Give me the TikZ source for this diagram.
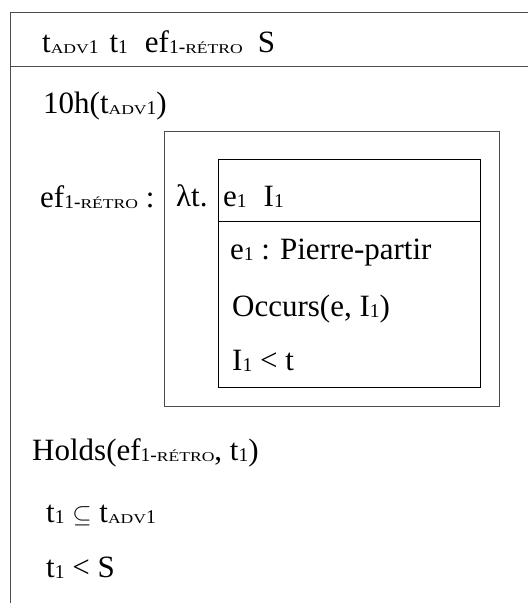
\documentclass[tikz,border=0pt]{standalone}
\usepackage{fontspec}
\usepackage{graphicx}
\setmainfont{Liberation Serif}
\newcommand\lo[1]{\raisebox{-1.5pt}{\fontsize{19.5}{20}\selectfont #1}}
\newcommand\smc[1]{\scalebox{1.3}[1]{\fontsize{13.5}{14}\selectfont #1}}
\newcommand\tadv{t\lo{\smc{ADV}1}}
\newcommand\efr{ef\lo{1-\smc{RÉTRO}}}
\begin{document}
\begin{tikzpicture}[x=1pt,y=-1pt,
  txt/.style={anchor=base west,inner sep=0pt,font=\fontsize{31}{36}\selectfont},
  outerline/.style={draw=black!70,line width=1pt},
  boxline/.style={draw=black,line width=1pt}]
\useasboundingbox (0,0) rectangle (528,603);
% outer frame
\draw[outerline] (528,12) -- (10.5,12) -- (10.5,603);
\draw[outerline] (10.5,66) -- (528,66);
% middle and inner boxes
\draw[outerline] (164,131) rectangle (499,406);
\draw[boxline] (218,159) rectangle (480,387);
\draw[boxline] (218,221) -- (480,221);
% texts
\node[txt] (refs) at (42,52) {\tadv\hspace{11pt}t\lo{1}\hspace{17pt}\efr\hspace{15pt}S};
\node[txt] (ten) at (43,113) {10h(\tadv)};
\node[txt] (efl) at (40,207) {\efr\ :};
\node[txt] (lam) at (176,206) {λt.};
\node[txt] (hdr) at (223,206) {e\lo{1}\hspace{17pt}I\lo{1}};
\node[txt] (c1) at (230,259) {e\lo{1} :\hspace{10pt}Pierre-partir};
\node[txt] (c2) at (232,316) {Occurs(e, I\lo{1})};
\node[txt] (c3) at (232,370) {I\lo{1} < t};
\node[txt] (holds) at (32,460) {Holds(\efr, t\lo{1})};
\node[txt] (sub) at (46,522) {t\lo{1} $\subseteq$ \tadv};
\node[txt] (prec) at (46,577) {t\lo{1} < S};
\end{tikzpicture}
\end{document}
